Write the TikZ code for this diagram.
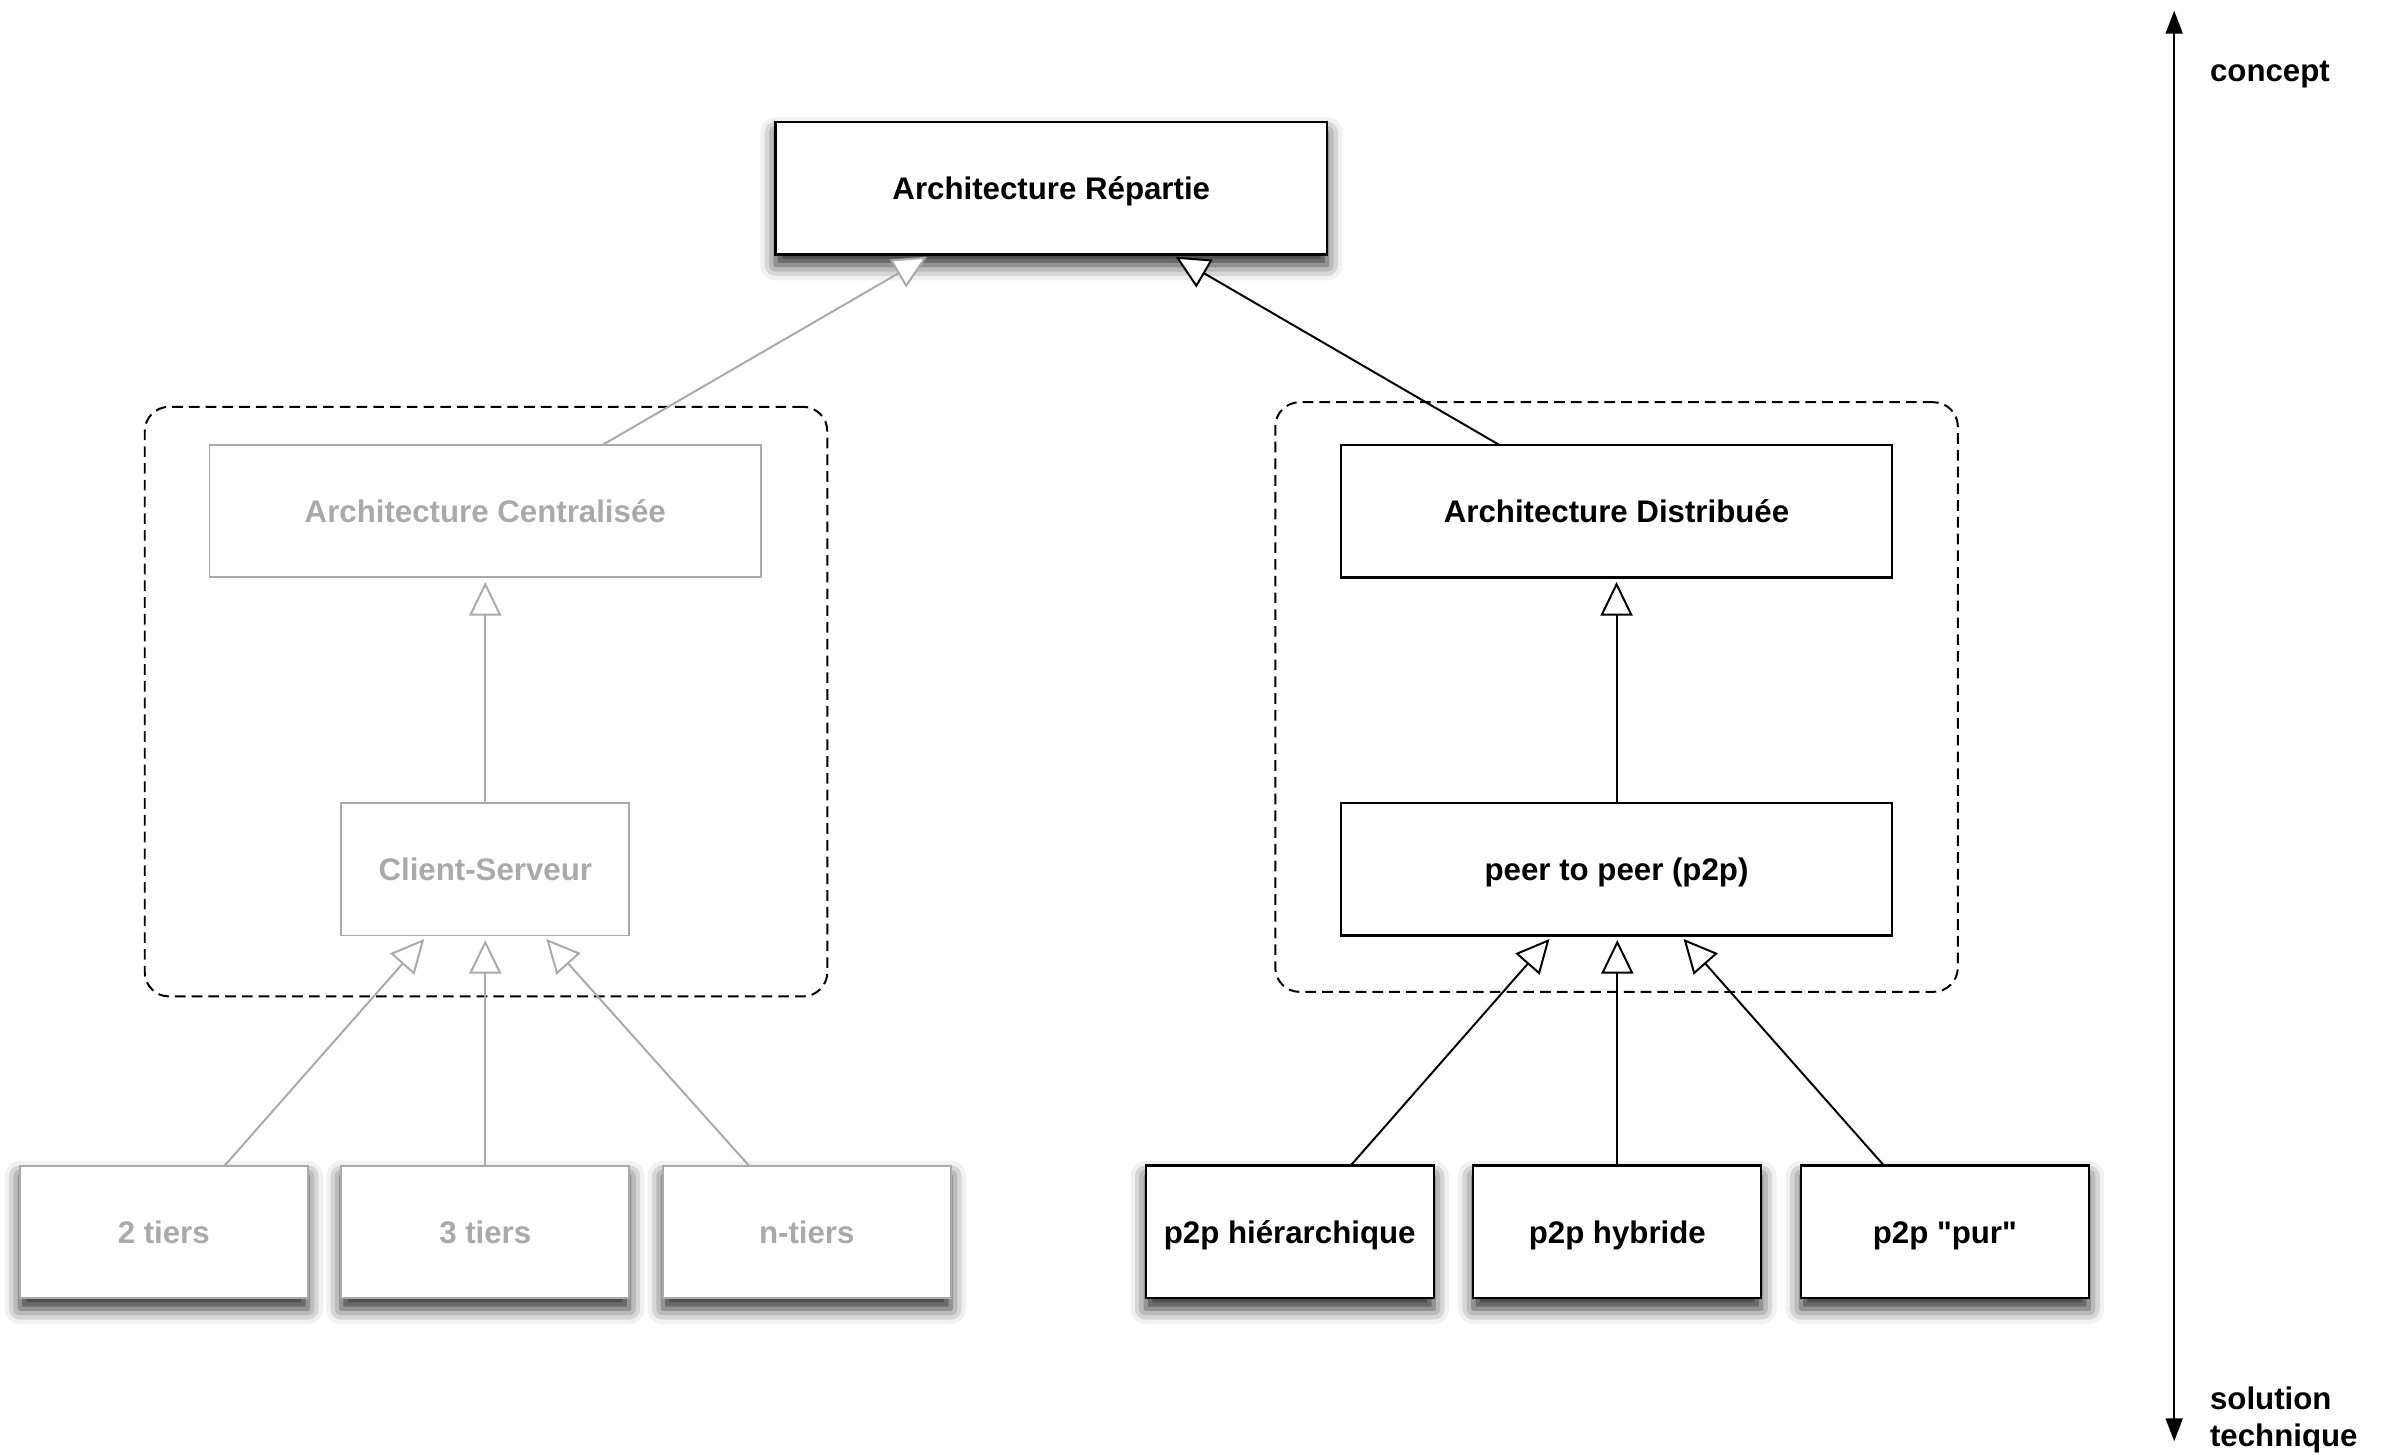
\documentclass[tikz,border=0pt]{standalone}
\usepackage{fontspec}
\setmainfont{Liberation Sans}
\newfontfamily\straightquotes{Liberation Sans}[Ligatures=TeXOff]
\usetikzlibrary{arrows.meta,shadows.blur}
\definecolor{faded}{RGB}{170,170,170}
\begin{document}
\begin{tikzpicture}[x=1pt,y=-1pt,
  every node/.style={font=\fontsize{20.5}{24}\selectfont\bfseries},
  box/.style={draw, line width=1.4pt, fill=white, minimum height=87pt,
    inner sep=0pt, outer sep=0pt, text height=14.7pt, text depth=0pt},
  wide/.style={box, minimum width=362pt},
  small/.style={box, minimum width=189pt},
  shadowed/.style={blur shadow={shadow xshift=0pt, shadow yshift=-7pt,
    shadow blur radius=10pt, shadow opacity=85}},
  greyed/.style={draw=faded, text=faded, line width=1.3pt},
  group/.style={draw, dashed, dash pattern=on 7pt off 4pt, line width=1.3pt,
    rounded corners=16pt, minimum width=448pt, minimum height=387pt},
  gen/.style={line width=1.3pt, shorten >=3pt,
    -{Triangle[length=22pt,width=21pt,fill=white]}},
  fadedgen/.style={gen, draw=faded},
  axis/.style={line width=1.4pt,
    {Triangle[length=15pt,width=11pt]}-{Triangle[length=15pt,width=11pt]}},
  label/.style={anchor=west, align=left}
]
\useasboundingbox (0,0) rectangle (1568,955);

% dashed groupings
\node[group] (leftgroup) at (319,460.5) {};
\node[group] (rightgroup) at (1061,457.5) {};

% root
\node[wide, shadowed] (rep) at (690,123.5) {Architecture Répartie};

% centralised branch (greyed out)
\node[wide, greyed] (ac) at (318.5,335.5) {Architecture Centralisée};
\node[small, greyed] (cs) at (318.5,570.5) {Client-Serveur};
\node[small, greyed, shadowed] (t2) at (107.5,808.5) {2 tiers};
\node[small, greyed, shadowed] (t3) at (318.5,808.5) {3 tiers};
\node[small, greyed, shadowed] (tn) at (529.5,808.5) {n-tiers};

% distributed branch
\node[wide] (ad) at (1061,335.5) {Architecture Distribuée};
\node[wide] (pp) at (1061,570.5) {peer to peer (p2p)};
\node[small, shadowed] (ph) at (846.5,808.5) {p2p hiérarchique};
\node[small, shadowed] (hy) at (1061.5,808.5) {p2p hybride};
\node[small, shadowed] (pu) at (1276.5,808.5) {\straightquotes p2p "pur"};

% generalisation links
\draw[fadedgen] ([xshift=77pt]ac.north) -- ([xshift=-79pt]rep.south);
\draw[gen] ([xshift=-77pt]ad.north) -- ([xshift=79pt]rep.south);

\draw[fadedgen] (cs) -- (ac);
\draw[fadedgen] ([xshift=40pt]t2.north) -- ([xshift=-38pt]cs.south);
\draw[fadedgen] (t3) -- (cs);
\draw[fadedgen] ([xshift=-38pt]tn.north) -- ([xshift=38pt]cs.south);

\draw[gen] (pp) -- (ad);
\draw[gen] ([xshift=40pt]ph.north) -- ([xshift=-42pt]pp.south);
\draw[gen] (hy.north) -- (hy.north |- pp.south);
\draw[gen] ([xshift=-40pt]pu.north) -- ([xshift=42pt]pp.south);

% abstraction axis
\coordinate (axtop) at (1427,7);
\coordinate (axbot) at (1427,946);
\draw[axis] (axbot) -- (axtop);
\node[label] (concept) at (1447,49) {concept};
\node[label] (solution) at (1447,932) {solution\\technique};
\end{tikzpicture}
\end{document}
